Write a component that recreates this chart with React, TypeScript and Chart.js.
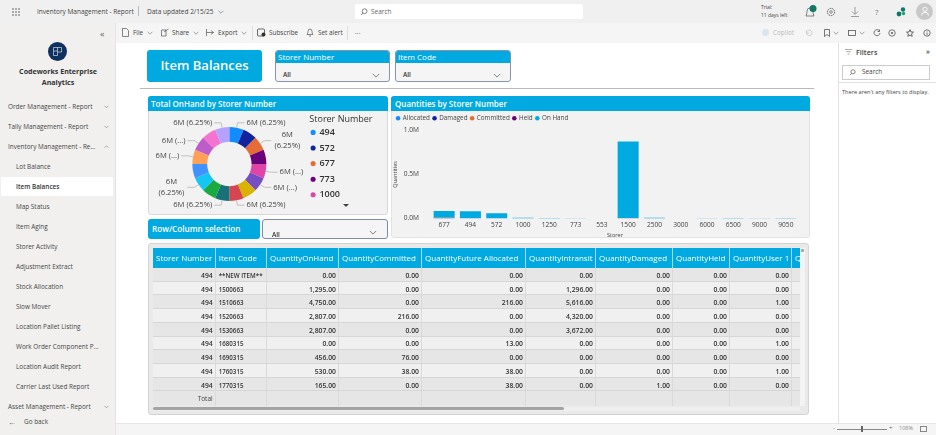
import React, { useEffect, useRef } from "react";
import { Chart, registerables } from "chart.js";
Chart.register(...registerables);

const FONT = '"Open Sans", "Noto Sans", sans-serif';
const BLUE = "#00A9E0";

// Donut
const storers = ["494","572","677","773","1000","1250","1500","2500","3000","553","6000","6500","7000","8000","9000","9050"];
const pieValues = [6,6,6,6,6,6,6,6,6,6,6,6,6,6,6,6];
const pieColors = ["#118DFF","#12239E","#E66C37","#6B007B","#E044A7","#744EC2","#D9B300","#D64550","#197278","#1AAB40","#15C6F4","#4092FF","#FFA058","#BE5DC9","#F472D0","#B5A1FF"];
const pieLabels = ["6M (6.25%)","","6M|(6.25%)","","6M (...)","6M (...)","","6M (6.25%)","6M (6.25%)","","6M|(6.25%)","","6M (...)","6M (...)","","6M (6.25%)"];

// Bars
const barStorers = ["677","494","572","1000","1250","773","553","1500","2500","3000","6000","6500","9000","9050"];
const allocated = [0.004,0.002,0.001,0,0,0,0,0.001,0,0,0,0,0,0];
const damaged = [0.001,0.001,0,0,0,0,0,0,0,0,0,0,0,0];
const committed = [0.003,0.001,0,0,0,0,0,0.001,0,0,0,0,0,0];
const held = [0,0,0,0,0,0,0,0,0,0,0,0,0,0];
const onHand = [0.077,0.079,0.057,0.008,0.005,0.002,0.001,0.871,0.007,0.001,0.004,0.005,0.003,0.005];
const yTicks = [0,0.5,1.0];

// Table
const tableCols = ["Storer Number","Item Code","QuantityOnHand","QuantityCommitted","QuantityFuture Allocated","QuantityIntransit","QuantityDamaged","QuantityHeld","QuantityUser 1","Q"];
const colEdges = [153,215.7,267,339,422,526,596,673,730,792,800];
const tableStorer = ["494","494","494","494","494","494","494","494","494"];
const itemCodes = ["**NEW ITEM**","1500663","1510663","1520663","1530663","1680315","1690315","1760315","1770315"];
const qtyOnHand = ["0.00","1,295.00","4,750.00","2,807.00","2,807.00","0.00","456.00","530.00","165.00"];
const qtyCommitted = ["0.00","0.00","0.00","216.00","0.00","0.00","76.00","38.00","0.00"];
const qtyFuture = ["0.00","0.00","216.00","0.00","0.00","13.00","0.00","38.00","38.00"];
const qtyIntransit = ["0.00","1,296.00","5,616.00","4,320.00","3,672.00","0.00","0.00","0.00","0.00"];
const qtyDamaged = ["0.00","0.00","0.00","0.00","0.00","0.00","0.00","0.00","1.00"];
const qtyHeld = ["0.00","0.00","0.00","0.00","0.00","0.00","0.00","0.00","0.00"];
const qtyUser1 = ["0.00","0.00","1.00","0.00","0.00","1.00","0.00","1.00","0.00"];
const tableData = [tableStorer,itemCodes,qtyOnHand,qtyCommitted,qtyFuture,qtyIntransit,qtyDamaged,qtyHeld,qtyUser1];

// Navigation
const navItems: [string,number,boolean,string][] = [
  ["Order Management - Report",107,false,"v"],
  ["Tally Management - Report",127,false,"v"],
  ["Inventory Management - Re...",147,false,"^"],
  ["Lot Balance",167,true,""],
  ["Item Balances",187,true,""],
  ["Map Status",207,true,""],
  ["Item Aging",227,true,""],
  ["Storer Activity",247,true,""],
  ["Adjustment Extract",267,true,""],
  ["Stock Allocation",287,true,""],
  ["Slow Mover",307,true,""],
  ["Location Pallet Listing",327,true,""],
  ["Work Order Component P...",347,true,""],
  ["Location Audit Report",367,true,""],
  ["Carrier Last Used Report",387,true,""],
  ["Asset Management - Report",407,false,"v"],
];

const box = (x:number,y:number,w:number,h:number,extra:any={}):any => ({position:"absolute",left:x,top:y,width:w,height:h,boxSizing:"border-box",...extra});
const T = ({x,y,s=7,c="#444",b=false,children,right,w}:any) => (
  <div style={{position:"absolute",left:right!==undefined?undefined:x,right:right,top:y,fontSize:s,lineHeight:1,color:c,fontWeight:b?600:400,whiteSpace:"nowrap",width:w}}>{children}</div>
);
const Chev = ({x,y,size=8,up=false,c="#666"}:any) => (
  <svg style={{position:"absolute",left:x,top:y}} width={size} height={size/2+1} viewBox="0 0 10 6">
    <path d={up?"M1 5 L5 1 L9 5":"M1 1 L5 5 L9 1"} fill="none" stroke={c} strokeWidth="1"/>
  </svg>
);

const labelPlugin = {
  id: "sliceLabels",
  afterLayout(chart:any) {
    // the legend title is wider than its items: give the legend box room for it
    const lg = chart.legend;
    lg.left -= 6;
    lg.width = 72.4;
    lg.right = lg.left + lg.width;
  },
  afterDatasetsDraw(chart:any) {
    const ctx = chart.ctx;
    const meta = chart.getDatasetMeta(0);
    ctx.save();
    ctx.font = `7.6px ${FONT}`;
    ctx.fillStyle = "#444";
    ctx.strokeStyle = "#aaa";
    ctx.lineWidth = 0.7;
    ctx.textBaseline = "middle";
    meta.data.forEach((arc:any,i:number) => {
      const txt = pieLabels[i];
      if (!txt) return;
      const mid = (arc.startAngle+arc.endAngle)/2;
      const cx = arc.x, cy = arc.y, r = arc.outerRadius;
      const x0 = cx+Math.cos(mid)*r, y0 = cy+Math.sin(mid)*r;
      const x1 = cx+Math.cos(mid)*(r+5), y1 = cy+Math.sin(mid)*(r+5);
      const right = Math.cos(mid) >= 0;
      const x2 = x1+(right?7:-7);
      ctx.beginPath(); ctx.moveTo(x0,y0); ctx.lineTo(x1,y1); ctx.lineTo(x2,y1); ctx.stroke();
      const lines = txt.split("|");
      ctx.textAlign = lines.length>1 ? "center" : (right?"left":"right");
      const w = lines.length>1 ? 28 : 0;
      const tx = (right? x2+2 : x2-2) + (lines.length>1 ? (right? w/2 : -w/2) : 0);
      lines.forEach((l:string,k:number) => ctx.fillText(l,tx,y1+(k-(lines.length-1)/2)*11));
    });
    ctx.restore();
  },
};

const barLegendPlugin = {
  id: "barLegendNudge",
  afterLayout(chart:any) {
    const lg = chart.legend;
    lg.top += 1; lg.bottom += 1;
    lg.left += 1.5; lg.right += 1.5;
  },
};

export default function App() {
  const pieRef = useRef<HTMLCanvasElement>(null);
  const barRef = useRef<HTMLCanvasElement>(null);
  useEffect(() => {
    document.body.style.margin = "0";
    document.body.style.overflow = "hidden";
    const pie = new Chart(pieRef.current!, {
      type: "doughnut",
      data: { labels: storers, datasets: [{ data: pieValues, backgroundColor: pieColors, borderWidth: 0, radius: 37 }] },
      options: {
        animation: false, responsive: false, cutout: "60%",
        layout: { padding: { top: 3, bottom: 0, left: 0, right: 32 } },
        plugins: {
          tooltip: { enabled: false },
          legend: {
            position: "right", align: "start",
            title: { display: true, text: "Storer Number", color: "#333", font: { size: 9, family: FONT, weight: 500 as any }, position: "center", padding: { top: 0.5, bottom: -4 } },
            labels: { usePointStyle: true, pointStyle: "circle", boxWidth: 3.6, boxHeight: 3.6, padding: 6.6, color: "#333", font: { size: 9, family: FONT, weight: 600 as any },
              filter: (it:any) => it.index < 5 },
          },
        },
      },
      plugins: [labelPlugin],
    } as any);
    const mk = (label:string,data:number[],color:string) => ({ label, data, backgroundColor: color, stack: "q", barPercentage: 0.8, categoryPercentage: 1 });
    const bar = new Chart(barRef.current!, {
      type: "bar",
      data: { labels: barStorers, datasets: [
        mk("Allocated",allocated,"#118DFF"), mk("Damaged",damaged,"#12239E"), mk("Committed",committed,"#E66C37"), mk("Held",held,"#6B007B"), mk("On Hand",onHand,BLUE),
      ] },
      options: {
        animation: false, responsive: false,
        layout: { padding: { left: 0, right: 10, top: 0, bottom: 0 } },
        plugins: {
          tooltip: { enabled: false },
          legend: { position: "top", align: "start",
            labels: { usePointStyle: true, pointStyle: "circle", boxWidth: 3.2, boxHeight: 3.2, padding: 3, color: "#444", font: { size: 6.3, family: FONT } } },
        },
        scales: {
          x: { stacked: true, grid: { display: false, drawTicks: false }, border: { display: false },
            ticks: { color: "#444", font: { size: 6.6, family: FONT }, padding: 3, autoSkip: false, maxRotation: 0 },
            title: { display: true, text: "Storer", color: "#444", font: { size: 5.5, family: FONT }, padding: 0 } },
          y: { stacked: true, min: 0, max: 1, grid: { display: false, drawTicks: false }, border: { display: false },
            afterBuildTicks: (a:any) => { a.ticks = yTicks.map(v => ({ value: v })); },
            afterFit: (s:any) => { s.width = 39; },
            ticks: { color: "#444", font: { size: 6.6, family: FONT }, padding: 12, callback: (v:any) => v.toFixed(1)+"M" },
            title: { display: true, text: "Quantities", color: "#444", font: { size: 5.5, family: FONT }, padding: 0 } },
        },
      },
      plugins: [barLegendPlugin],
    } as any);
    return () => { pie.destroy(); bar.destroy(); };
  }, []);

  const rowTop = (i:number) => 268 + i*13.72;
  return (
    <div style={{position:"relative",width:936,height:435,overflow:"hidden",background:"#fff",fontFamily:FONT}}>
      {/* top bar */}
      <div style={box(0,0,936,23,{background:"#f0f0f0"})}/>
      <div style={box(0,23,936,20,{background:"#f5f5f5"})}/>
      <svg style={{position:"absolute",left:12,top:8}} width="9" height="9">{[1,4,7].flatMap(x=>[1,4,7].map(y=><circle key={x+"-"+y} cx={x} cy={y} r="0.8" fill="#555"/>))}</svg>
      <T x={37} y={9} s={6.5}>Inventory Management - Report</T>
      <div style={box(138,6,1,10,{background:"#bbb"})}/>
      <T x={147} y={9} s={6.5}>Data updated 2/15/25</T>
      <Chev x={218} y={10} size={6}/>
      <div style={box(355,4,228,15,{background:"#fff",borderRadius:2})}/>
      <svg style={{position:"absolute",left:360,top:8}} width="8" height="8" viewBox="0 0 8 8"><circle cx="4.6" cy="3.2" r="2.4" fill="none" stroke="#666" strokeWidth=".8"/><path d="M3 5 L1 7" stroke="#666" strokeWidth=".8"/></svg>
      <T x={371} y={9} s={6.5} c="#666">Search</T>
      <T x={761} y={5} s={5}>Trial:</T>
      <T x={761} y={13} s={5}>11 days left</T>
      <svg style={{position:"absolute",left:803,top:5}} width="14" height="14" viewBox="0 0 14 14"><path d="M3 11 Q4 9 4 6 Q4 3 7 3 Q10 3 10 6 Q10 9 11 11Z" fill="none" stroke="#666" strokeWidth=".8"/><circle cx="10" cy="3.5" r="3.5" fill="#117865"/></svg>
      <svg style={{position:"absolute",left:826,top:7}} width="10" height="10" viewBox="0 0 10 10"><circle cx="5" cy="5" r="3.6" fill="none" stroke="#666" strokeWidth="1" strokeDasharray="1.6 .6"/><circle cx="5" cy="5" r="1.3" fill="none" stroke="#666" strokeWidth=".7"/></svg>
      <svg style={{position:"absolute",left:850,top:7}} width="10" height="10" viewBox="0 0 10 10"><path d="M5 0 V7 M2 4.5 L5 7.5 L8 4.5 M1 9.5 H9" fill="none" stroke="#777" strokeWidth=".7"/></svg>
      <T x={875} y={8} s={8} c="#777">?</T>
      <svg style={{position:"absolute",left:896,top:7}} width="10" height="10" viewBox="0 0 10 10"><circle cx="7" cy="2.5" r="2.2" fill="#117865"/><circle cx="3" cy="7" r="2.4" fill="#117865"/><circle cx="7.5" cy="6.5" r="1.7" fill="#1aa37a"/></svg>
      <div style={box(916,3,17,17,{background:"#c8c8c8",borderRadius:"50%"})}/>
      <svg style={{position:"absolute",left:920,top:6}} width="10" height="10" viewBox="0 0 10 10"><circle cx="5" cy="3.3" r="2.1" fill="none" stroke="#fff" strokeWidth=".9"/><path d="M1.5 9.5 Q1.5 6.3 5 6.3 Q8.5 6.3 8.5 9.5" fill="none" stroke="#fff" strokeWidth=".9"/></svg>

      {/* toolbar */}
      <svg style={{position:"absolute",left:122,top:28}} width="7" height="9" viewBox="0 0 7 9"><path d="M.5 .5 H4.5 L6.5 2.5 V8.5 H.5Z" fill="none" stroke="#555" strokeWidth=".7"/></svg>
      <T x={133} y={30} s={6.4}>File</T><Chev x={147} y={31} size={6}/>
      <svg style={{position:"absolute",left:161,top:28}} width="8" height="9" viewBox="0 0 8 9"><path d="M.5 2 H5 V8 H.5Z M3 4 L7.5 1" fill="none" stroke="#555" strokeWidth=".7"/></svg>
      <T x={172} y={30} s={6.4}>Share</T><Chev x={193} y={31} size={6}/>
      <svg style={{position:"absolute",left:206,top:29}} width="8" height="7" viewBox="0 0 8 7"><path d="M.5 0 V7 M1 3.5 H7.5 M5 1.5 L7.5 3.5 L5 5.5" fill="none" stroke="#555" strokeWidth=".7"/></svg>
      <T x={218} y={30} s={6.4}>Export</T><Chev x={241} y={31} size={6}/>
      <div style={box(252,26,1,14,{background:"#ddd"})}/>
      <svg style={{position:"absolute",left:257,top:28}} width="9" height="9" viewBox="0 0 9 9"><rect x=".5" y="1" width="7" height="7" rx="1" fill="none" stroke="#444" strokeWidth=".8"/><circle cx="6.5" cy="6.5" r="2" fill="#333"/></svg>
      <T x={269} y={30} s={6.4}>Subscribe</T>
      <svg style={{position:"absolute",left:306,top:28}} width="8" height="9" viewBox="0 0 8 9"><path d="M1 6.5 Q2 5.5 2 3.5 Q2 1 4 1 Q6 1 6 3.5 Q6 5.5 7 6.5Z M3 8 H5" fill="none" stroke="#555" strokeWidth=".7"/></svg>
      <T x={318} y={30} s={6.4}>Set alert</T>
      <div style={box(347,26,1,14,{background:"#ddd"})}/>
      <T x={355} y={30} s={7}>···</T>
      <T x={773} y={30} s={6.4} c="#bbb">Copilot</T>
      <div style={box(762,29,7,7,{background:"#d9e4ee",borderRadius:"50%"})}/>
      <svg style={{position:"absolute",left:805,top:29}} width="8" height="8" viewBox="0 0 8 8"><path d="M1.5 1.5 V4 H4 M1.6 4 A2.7 2.7 0 1 0 2.4 2" fill="none" stroke="#bbb" strokeWidth=".7"/></svg>
      <svg style={{position:"absolute",left:824,top:29}} width="6" height="8" viewBox="0 0 6 8"><path d="M.5 .5 H5.5 V7.5 L3 5.5 L.5 7.5Z" fill="none" stroke="#555" strokeWidth=".8"/></svg>
      <Chev x={833} y={31} size={6}/>
      <svg style={{position:"absolute",left:848,top:30}} width="8" height="6" viewBox="0 0 8 6"><rect x=".5" y=".5" width="7" height="5" fill="none" stroke="#555" strokeWidth=".8"/></svg>
      <Chev x={859} y={31} size={6}/>
      <svg style={{position:"absolute",left:873,top:29}} width="8" height="8" viewBox="0 0 8 8"><path d="M6.5 2 A3 3 0 1 0 7 4 M6.5 .5 V2.5 H4.5" fill="none" stroke="#555" strokeWidth=".8"/></svg>
      <svg style={{position:"absolute",left:888,top:29}} width="8" height="8" viewBox="0 0 8 8"><circle cx="4" cy="4" r="3.2" fill="none" stroke="#555" strokeWidth=".8"/><circle cx="4" cy="4" r="1" fill="#555"/></svg>
      <svg style={{position:"absolute",left:906,top:29}} width="8" height="8" viewBox="0 0 8 8"><path d="M4 .6 L5 3 L7.5 3.1 L5.6 4.8 L6.2 7.4 L4 6 L1.8 7.4 L2.4 4.8 L.5 3.1 L3 3Z" fill="none" stroke="#444" strokeWidth=".8"/></svg>
      <svg style={{position:"absolute",left:923,top:29}} width="8" height="8" viewBox="0 0 8 8"><circle cx="4" cy="4" r="3.2" fill="none" stroke="#555" strokeWidth=".8"/><path d="M4 3.5 V6 M4 2 V2.6" stroke="#555" strokeWidth=".8"/></svg>

      {/* sidebar */}
      <div style={box(0,23,116,412,{background:"#f1f0ef",borderRight:"1px solid #e4e4e4"})}/>
      <T x={100} y={29} s={9} c="#666">«</T>
      <div style={box(48,42,19,19,{background:"#10305f",borderRadius:"50%"})}/>
      <svg style={{position:"absolute",left:53,top:47}} width="9" height="9" viewBox="0 0 9 9"><path d="M.5 .5 H8.5 V5 H4.5 V8.5 H.5Z M4.5 .5 V5 M.5 4 H4.5" fill="none" stroke="#cfd8e8" strokeWidth=".7"/></svg>
      <div style={{position:"absolute",left:0,top:66,width:116,textAlign:"center",fontSize:7.1,fontWeight:700,lineHeight:"11px",color:"#333"}}>Codeworks Enterprise<br/>Analytics</div>
      <div style={box(1,177,112,19,{background:"#fff"})}/>
      {navItems.map(([t,y,sub,ch]) => (
        <React.Fragment key={t}>
          <T x={sub?16:8} y={y-3.5} s={6.4} b={t==="Item Balances"} c={t==="Item Balances"?"#333":"#444"}>{t}</T>
          {ch && <Chev x={104} y={y-2} size={5} up={ch==="^"}/>}
        </React.Fragment>
      ))}
      <T x={8} y={418} s={8} c="#555">←</T>
      <T x={24} y={418.5} s={6.4}>Go back</T>

      {/* filter pane */}
      <div style={box(838,43,98,380,{borderLeft:"1px solid #e2e2e2",background:"#fff"})}/>
      <svg style={{position:"absolute",left:845,top:49}} width="7" height="6" viewBox="0 0 7 6"><path d="M0 .5 H7 M1.2 2.7 H5.8 M2.5 5 H4.5" stroke="#999" strokeWidth=".8"/></svg>
      <T x={856} y={48.5} s={7.2} b c="#444">Filters</T>
      <T x={926} y={48} s={7} b>»</T>
      <div style={box(842,65,88,15,{border:"1px solid #ccc",background:"#fff"})}/>
      <svg style={{position:"absolute",left:849,top:69}} width="7" height="7" viewBox="0 0 8 8"><circle cx="4.6" cy="3.2" r="2.4" fill="none" stroke="#555" strokeWidth=".8"/><path d="M3 5 L1 7" stroke="#555" strokeWidth=".8"/></svg>
      <T x={862} y={69} s={6.4}>Search</T>
      <div style={box(838,82,98,1,{background:"#e2e2e2"})}/>
      <T x={842} y={90} s={5.6} c="#444">There aren't any filters to display.</T>

      {/* status bar */}
      <div style={box(116,423,820,12,{background:"#f5f5f5",borderTop:"1px solid #e6e6e6"})}/>
      <T x={833} y={425} s={6} c="#666">-</T>
      <div style={box(837,429,50,1,{background:"#888"})}/>
      <div style={box(861,426,2,6,{background:"#666"})}/>
      <T x={889} y={425} s={6} c="#666">+</T>
      <T x={899} y={426} s={5.5} c="#888">108%</T>
      <div style={box(920,426,7,6,{border:"1px solid #888"})}/>

      {/* header cards */}
      <div style={box(147,50,115,32,{background:BLUE,borderRadius:3,color:"#fff",fontSize:13,fontWeight:600,textAlign:"center",lineHeight:"30px"})}>Item Balances</div>
      {[["Storer Number",275,115],["Item Code",395,116]].map(([t,x,w]:any) => (
        <div key={t} style={box(x,50,w,32,{border:"1px solid #8a93ad",borderRadius:3,background:"#f5f5f5",overflow:"hidden"})}>
          <div style={{background:BLUE,color:"#fff",fontSize:8,height:12,lineHeight:"12px",paddingLeft:2}}>{t}</div>
          <div style={{position:"absolute",left:7,top:19,fontSize:6.5,color:"#333",fontWeight:600}}>All</div>
          <Chev x={w-19} y={22} size={8}/>
        </div>
      ))}
      <div style={box(140,88,674,1,{background:"#b9b9b9"})}/>

      {/* donut card */}
      <div style={box(148,96,240,119,{background:"#f2f2f2",border:"1px solid #d8d8d8",borderRadius:3})}/>
      <div style={box(148,96,240,15,{background:BLUE,borderRadius:"3px 3px 0 0",color:"#fff",fontSize:8,fontWeight:600,lineHeight:"15px",paddingLeft:3})}>Total OnHand by Storer Number</div>
      <canvas ref={pieRef} width={240} height={103} style={{position:"absolute",left:148,top:111,width:240,height:103}}/>
      <svg style={{position:"absolute",left:343,top:204}} width="6" height="4"><path d="M0 0 H6 L3 3Z" fill="#444"/></svg>

      {/* bar card */}
      <div style={box(391,96,419,119+23,{background:"#f2f2f2",border:"1px solid #e2e2e2",borderRadius:3})}/>
      <div style={box(391,96,419,15,{background:BLUE,borderRadius:"3px 3px 0 0",color:"#fff",fontSize:8,fontWeight:600,lineHeight:"15px",paddingLeft:4})}>Quantities by Storer Number</div>
      <canvas ref={barRef} width={417} height={128} style={{position:"absolute",left:392,top:111,width:417,height:128}}/>

      {/* Row/Column selection */}
      <div style={box(148,219,112,20,{background:BLUE,borderRadius:3,color:"#fff",fontSize:8.2,fontWeight:600,lineHeight:"20px",paddingLeft:4})}>Row/Column selection</div>
      <div style={box(262,219,126,20,{border:"1px solid #7f8aa8",borderRadius:3,background:"#f5f5f5"})}>
        <div style={{position:"absolute",left:9,top:10,fontSize:6.5,color:"#333",fontWeight:600}}>All</div>
        <Chev x={106} y={10} size={8}/>
      </div>

      {/* table */}
      <div style={box(148,243,661,172,{background:"#e9e9e9",border:"1px solid #d3d3d3",borderRadius:3})}/>
      {tableCols.map((c,i) => (
        <div key={c} style={box(colEdges[i],248,colEdges[i+1]-colEdges[i],20.5,{background:BLUE,color:"#fff",fontSize:8,fontWeight:500,lineHeight:"20px",paddingLeft:3,borderRight:i<9?"1px solid #9fdcf2":"none",overflow:"hidden",whiteSpace:"nowrap"})}>{c}</div>
      ))}
      {itemCodes.map((_,r) => (
        <div key={r} style={box(153,rowTop(r),647,13.72,{background:r%2?"#f0f0f0":"#e6e6e6",borderBottom:"1px solid #d6d6d6"})}/>
      ))}
      <div style={box(153,rowTop(9),647,13.8,{background:"#e6e6e6"})}/>
      {colEdges.slice(1,10).map((x,i) => <div key={i} style={box(x-1,268,1,138,{background:"#dadada"})}/>)}
      {tableData.map((col,ci) => col.map((v,r) => (
        <div key={ci+"-"+r} style={{...box(colEdges[ci],rowTop(r)+0.8,colEdges[ci+1]-colEdges[ci]-3,13.72),textAlign:ci===1?"left":"right",paddingLeft:ci===1?3:0,fontSize:ci===1?6.2:6.8,fontWeight:600,lineHeight:"13.7px",color:"#333",whiteSpace:"nowrap"}}>{v}</div>
      )))}
      <div style={{...box(153,rowTop(9)+0.5,59.7,13.8),textAlign:"right",fontSize:6.5,lineHeight:"14px",color:"#444",fontWeight:500}}>Total</div>
      <div style={box(153,407,647,4,{background:"#efefef"})}/>
      <div style={box(153,407,411,3,{background:"#a3a3a3",borderRadius:2})}/>
      <div style={box(800,248,5,158,{background:"#f3f3f3"})}/>
      <div style={box(801,249,3,3,{background:"#a3a3a3",borderRadius:1})}/>
    </div>
  );
}
